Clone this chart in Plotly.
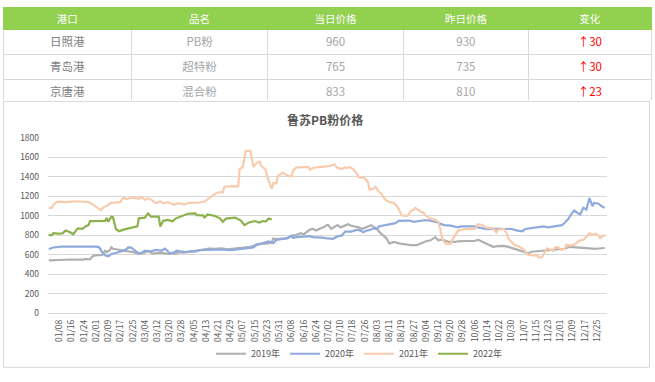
import plotly.graph_objects as go
import pandas as pd

# ---------------- table data ----------------
ports = ["日照港", "青岛港", "京唐港"]
products = ["PB粉", "超特粉", "混合粉"]
price_today = [960, 765, 833]
price_yesterday = [930, 735, 810]
price_change = [30, 30, 23]
table_headers = ["港口", "品名", "当日价格", "昨日价格", "变化"]

# ---------------- chart data ----------------
# categories: every calendar day (leap-year calendar), labels every 8th day
dates = pd.date_range("2020-01-01", "2020-12-31").strftime("%m/%d").tolist()
tick_labels = dates[7::8]

# day-of-year (1-based) and value readings
day_2019 = [1, 8, 16, 24, 25, 28, 29, 31, 36, 38, 39, 41, 42, 43, 47, 50, 52, 56, 60, 63, 65, 66, 69, 71, 74, 78, 82, 84, 86, 89,
            94, 98, 102, 106, 110, 114, 118, 122, 125, 128, 131, 133, 135, 136, 138, 142, 145, 147, 148, 150, 155, 157, 159, 161, 163,
            166, 168, 170, 172, 174, 176, 179, 181, 183, 184, 186, 188, 190, 192, 195, 197, 199, 201, 204, 206, 208, 210, 212, 214, 216,
            218, 220, 222, 224, 227, 231, 235, 238, 242, 244, 246, 248, 251, 254, 256, 258, 260, 263, 267, 269, 274, 280, 282, 285, 287,
            289, 292, 295, 299, 302, 304, 306, 308, 311, 315, 317, 323, 328, 333, 339, 342, 346, 348, 353, 359, 361, 365]
val_2019 = [542, 548, 550, 548, 557, 552, 575, 592, 598, 640, 625, 648, 676, 660, 650, 645, 635, 625, 610, 615, 630, 640, 610, 613, 620, 610, 612, 610, 625, 620,
            630, 640, 650, 662, 660, 665, 655, 662, 660, 668, 670, 680, 690, 697, 712, 713, 715, 730, 765, 760, 768, 767, 780, 797, 803,
            820, 810, 830, 857, 863, 847, 870, 880, 903, 903, 865, 880, 903, 880, 897, 913, 897, 890, 880, 863, 880, 890, 903, 880, 863,
            823, 797, 770, 713, 730, 713, 703, 697, 697, 713, 723, 737, 747, 780, 747, 753, 747, 730, 730, 737, 740, 740, 753, 730, 713,
            703, 680, 687, 690, 680, 670, 653, 647, 630, 613, 630, 640, 647, 653, 660, 680, 675, 670, 663, 660, 663, 668]

day_2020 = [1, 4, 9, 15, 21, 27, 32, 34, 36, 38, 40, 42, 46, 49, 51, 53, 55, 57, 60, 62, 64, 67, 71, 75, 77, 79, 80, 83, 85, 88,
            91, 94, 97, 99, 102, 105, 109, 113, 116, 120, 124, 128, 131, 135, 137, 140, 142, 145, 146, 148, 150, 153, 155, 157, 160,
            161, 163, 167, 172, 174, 178, 180, 182, 185, 187, 190, 193, 195, 199, 201, 203, 205, 207, 209, 211, 214, 216, 217, 219, 222,
            224, 228, 230, 234, 237, 240, 243, 247, 250, 252, 254, 256, 258, 260, 264, 267, 269, 271, 276, 280, 282, 287, 295, 300, 304,
            308, 311, 313, 317, 322, 325, 328, 333, 337, 339, 341, 343, 345, 347, 349, 351, 353, 355, 357, 358, 361, 363, 365]
val_2020 = [658, 673, 682, 684, 682, 683, 682, 675, 625, 592, 582, 607, 622, 633, 646, 675, 673, 645, 612, 622, 640, 632, 648, 642, 662, 635, 612, 625, 640, 632,
            625, 635, 630, 645, 650, 648, 650, 652, 650, 645, 655, 660, 665, 675, 698, 712, 723, 735, 728, 718, 750, 760, 762, 770, 797,
            772, 780, 783, 790, 780, 780, 775, 770, 770, 763, 787, 797, 837, 837, 847, 857, 847, 830, 847, 853, 870, 863, 890, 897, 900,
            913, 923, 947, 953, 950, 937, 947, 953, 952, 945, 940, 930, 913, 903, 897, 890, 880, 890, 890, 890, 880, 865, 865, 865, 863,
            847, 840, 863, 870, 880, 890, 880, 890, 903, 930, 963, 1013, 1053, 1030, 1013, 1080, 1063, 1180, 1097, 1130, 1123, 1097, 1080]

day_2021 = [1, 3, 4, 6, 8, 12, 16, 19, 24, 27, 29, 31, 33, 35, 37, 40, 42, 45, 48, 49, 50, 52, 55, 60, 62, 64, 66, 68, 71, 74,
            76, 79, 83, 86, 90, 92, 97, 100, 103, 105, 108, 111, 114, 115, 116, 121, 125, 126, 128, 130, 133, 134, 135, 137, 139,
            140, 143, 144, 146, 147, 148, 150, 151, 154, 156, 158, 160, 161, 163, 167, 171, 172, 174, 178, 181, 184, 185, 188, 190, 193,
            195, 196, 198, 200, 203, 204, 207, 208, 210, 211, 214, 215, 217, 219, 220, 222, 224, 227, 229, 231, 232, 234, 236, 238, 240,
            241, 243, 245, 246, 248, 250, 251, 254, 256, 257, 258, 259, 261, 264, 265, 267, 268, 269, 274, 280, 282, 285, 287, 292, 294,
            295, 299, 301, 302, 304, 306, 308, 310, 312, 314, 315, 321, 322, 324, 326, 327, 329, 331, 333, 335, 337, 339, 340, 342, 345,
            347, 349, 351, 353, 355, 357, 359, 361, 362, 364, 365]
val_2021 = [1080, 1082, 1110, 1140, 1145, 1140, 1145, 1148, 1143, 1140, 1123, 1105, 1080, 1058, 1088, 1110, 1135, 1135, 1140, 1168, 1185, 1170, 1185, 1175, 1188, 1163, 1178, 1165, 1130, 1145,
            1128, 1138, 1112, 1128, 1115, 1130, 1130, 1135, 1145, 1170, 1200, 1235, 1243, 1240, 1297, 1303, 1298, 1480, 1497, 1665, 1665, 1560, 1503, 1540, 1555,
            1513, 1472, 1400, 1320, 1275, 1335, 1332, 1405, 1440, 1425, 1405, 1408, 1462, 1495, 1498, 1502, 1470, 1492, 1498, 1503, 1505, 1510, 1528, 1490, 1480,
            1497, 1490, 1500, 1480, 1430, 1390, 1390, 1380, 1347, 1265, 1280, 1297, 1247, 1223, 1190, 1157, 1140, 1130, 1097, 1040, 1003, 997, 1000, 1047, 1063,
            1080, 1057, 1037, 1037, 997, 980, 970, 957, 937, 880, 813, 747, 713, 710, 747, 797, 830, 847, 863, 865, 913, 905, 880, 870, 830,
            855, 863, 813, 763, 730, 697, 692, 670, 653, 613, 597, 590, 570, 575, 630, 663, 655, 637, 680, 670, 647, 665, 703, 693, 703,
            723, 747, 752, 780, 820, 803, 815, 797, 770, 790, 803]

day_2022 = [1, 3, 4, 7, 10, 12, 15, 17, 20, 23, 25, 27, 28, 33, 38, 39, 40, 42, 43, 45, 47, 50, 53, 56, 59, 60, 64, 65, 66, 68,
            73, 74, 76, 79, 82, 84, 87, 91, 92, 97, 98, 102, 103, 105, 110, 113, 115, 117, 123, 127, 129, 132, 136, 139, 141,
            143, 145, 147]
val_2022 = [800, 800, 820, 815, 818, 847, 830, 810, 870, 865, 890, 903, 945, 945, 947, 977, 937, 990, 985, 863, 840, 857, 870, 880, 890, 973, 980, 1003, 1023, 990,
            990, 890, 947, 957, 943, 970, 987, 1013, 1020, 1023, 1005, 1003, 980, 1013, 997, 973, 937, 970, 980, 947, 903, 930, 945, 930, 945,
            940, 970, 960]

series = [
    ("2019年", day_2019, val_2019, "#B0B0B0"),
    ("2020年", day_2020, val_2020, "#8FAADC"),
    ("2021年", day_2021, val_2021, "#F8CBAD"),
    ("2022年", day_2022, val_2022, "#8CB04C"),
]

W, H = 655, 382
FONT = "Noto Sans CJK SC"
TXT = "#595959"

fig = go.Figure()

# ---------------- table ----------------
change_text = ["↑" + str(c) for c in price_change]
fig.add_trace(go.Table(
    domain=dict(x=[3 / W, 651 / W], y=[1 - 97 / H, 1]),
    columnwidth=[128, 136, 135, 125, 122],
    header=dict(values=table_headers, fill_color="#92D050", line_color="#92D050",
                font=dict(color="white", size=10.5, family=FONT), height=22, align="center"),
    cells=dict(values=[ports, products, [str(v) for v in price_today],
                       [str(v) for v in price_yesterday], change_text],
               fill_color="white", line_color="#D9D9D9",
               font=dict(color=[["#808080"] * 3, ["#A6A6A6"] * 3, ["#A6A6A6"] * 3,
                                ["#A6A6A6"] * 3, ["#FF0000"] * 3],
                         size=11.5, family=FONT),
               height=25, align="center"),
))

# ---------------- lines ----------------
for name, days, vals, color in series:
    fig.add_trace(go.Scatter(
        x=[dates[d - 1] for d in days], y=vals, name=name, mode="lines",
        line=dict(color=color, width=2.2), xaxis="x", yaxis="y",
    ))

# chart frame
fig.add_shape(type="rect", xref="paper", yref="paper",
              x0=3.5 / W, x1=649.5 / W, y0=1 - 372 / H, y1=1 - 97.5 / H,
              line=dict(color="#D9D9D9", width=1), fillcolor="rgba(0,0,0,0)", layer="below")

fig.add_annotation(text="<b>鲁苏PB粉价格</b>", xref="paper", yref="paper",
                   x=325 / W, y=1 - 116.5 / H, showarrow=False,
                   font=dict(family=FONT, size=12, color=TXT), xanchor="center", yanchor="middle")

fig.update_layout(
    width=W, height=H, margin=dict(l=0, r=0, t=0, b=0),
    paper_bgcolor="white", plot_bgcolor="white",
    showlegend=True,
    legend=dict(orientation="h", x=359 / W, xanchor="center", y=1 - 358 / H, yanchor="middle",
                font=dict(family=FONT, size=9, color=TXT), itemwidth=30, bgcolor="rgba(0,0,0,0)"),
    xaxis=dict(domain=[48 / W, 607 / W], type="category", categoryorder="array",
               categoryarray=dates, range=[-0.5, 365.5], tickmode="array",
               tickvals=tick_labels, ticktext=tick_labels, tickangle=-90,
               tickfont=dict(family=FONT, size=8.5, color=TXT), showgrid=False,
               showline=False, zeroline=False, ticks="", ticklabelstandoff=4),
    yaxis=dict(domain=[1 - 316 / H, 1 - 135 / H], range=[0, 1800], dtick=200,
               tickfont=dict(family=FONT, size=8.5, color=TXT), gridcolor="#D9D9D9",
               gridwidth=1, zeroline=True, zerolinecolor="#D9D9D9", zerolinewidth=1,
               showline=False, ticks="", ticklabelstandoff=8),
)

fig.write_html("out.html")
